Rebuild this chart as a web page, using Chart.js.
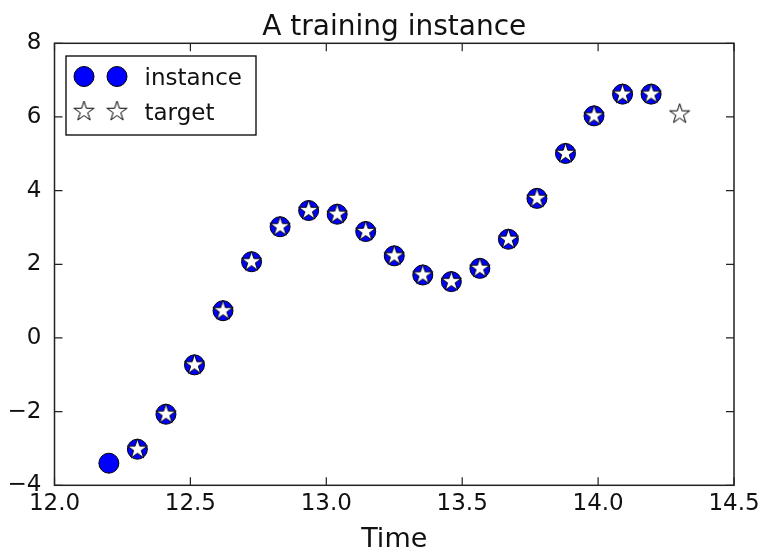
<!DOCTYPE html>
<html>
<head>
<meta charset="utf-8">
<script src="https://cdn.jsdelivr.net/npm/chart.js@4/dist/chart.umd.min.js"></script>
<style>
  html, body { margin: 0; padding: 0; background: #fff; }
  #wrap { width: 762px; height: 552px; }
</style>
</head>
<body>
<div id="wrap"><canvas id="myChart" width="762" height="552"></canvas></div>
<script>
// time steps of the training instance (21 points, instance = first 20, target = last 20)
const tiempos = [12.2, 12.305, 12.41, 12.515, 12.62, 12.725, 12.83, 12.935, 13.04, 13.145,
  13.25, 13.355, 13.46, 13.565, 13.67, 13.775, 13.88, 13.985, 14.09, 14.195, 14.3];
const valoresInstancia = [-3.40, -3.02, -2.07, -0.73, 0.74, 2.07, 3.02, 3.46, 3.36, 2.89,
  2.23, 1.71, 1.53, 1.89, 2.68, 3.79, 5.01, 6.03, 6.62, 6.62];
const valoresTarget = [-3.02, -2.07, -0.73, 0.74, 2.07, 3.02, 3.46, 3.36, 2.89, 2.23,
  1.71, 1.53, 1.89, 2.68, 3.79, 5.01, 6.03, 6.62, 6.62, 6.08];
const ticksX = [12.0, 12.5, 13.0, 13.5, 14.0, 14.5];
const ticksY = [-4, -2, 0, 2, 4, 6, 8];
const etiquetas = ['instance', 'target'];
const titulo = 'A training instance';
const tituloX = 'Time';

const fuente = "'DejaVu Sans', 'Liberation Sans', sans-serif";

// white five-point star marker, like matplotlib "w*"
function crearEstrella(radio) {
  const c = document.createElement('canvas');
  const lado = Math.ceil(radio * 2 + 4);
  c.width = lado;
  c.height = lado;
  const ctx = c.getContext('2d');
  const cx = lado / 2, cy = lado / 2;
  const interior = radio * 0.381966;
  ctx.beginPath();
  for (let i = 0; i < 10; i++) {
    const r = i % 2 === 0 ? radio : interior;
    const ang = -Math.PI / 2 + i * Math.PI / 5;
    const px = cx + r * Math.cos(ang);
    const py = cy + r * Math.sin(ang);
    if (i === 0) ctx.moveTo(px, py); else ctx.lineTo(px, py);
  }
  ctx.closePath();
  ctx.fillStyle = '#ffffff';
  ctx.fill();
  ctx.lineWidth = 1;
  ctx.strokeStyle = '#000000';
  ctx.lineJoin = 'miter';
  ctx.stroke();
  return c;
}
const estrella = crearEstrella(10.5);

const puntos = (xs, ys) => ys.map((v, i) => ({ x: xs[i], y: v }));

// frame, inward ticks, title, axis label and legend drawn matplotlib style
const estiloClasico = {
  id: 'estiloClasico',
  afterDraw(chart) {
    const { ctx, chartArea: a } = chart;
    const sx = chart.scales.x, sy = chart.scales.y;
    ctx.save();
    ctx.strokeStyle = '#222';
    ctx.lineWidth = 1.5;
    ctx.strokeRect(a.left, a.top, a.right - a.left, a.bottom - a.top);

    ctx.lineWidth = 1.2;
    ctx.beginPath();
    ticksX.forEach(t => {
      const px = sx.getPixelForValue(t);
      ctx.moveTo(px, a.bottom); ctx.lineTo(px, a.bottom - 8);
      ctx.moveTo(px, a.top); ctx.lineTo(px, a.top + 8);
    });
    ticksY.forEach(t => {
      const py = sy.getPixelForValue(t);
      ctx.moveTo(a.left, py); ctx.lineTo(a.left + 8, py);
      ctx.moveTo(a.right, py); ctx.lineTo(a.right - 8, py);
    });
    ctx.stroke();

    // title and x label
    ctx.fillStyle = '#111';
    ctx.textAlign = 'center';
    ctx.textBaseline = 'alphabetic';
    const centro = (a.left + a.right) / 2;
    ctx.font = '28px ' + fuente;
    ctx.fillText(titulo, centro, 35);
    ctx.font = '27px ' + fuente;
    ctx.fillText(tituloX, centro, 547);

    // legend
    const lx = a.left + 11.5, ly = a.top + 12.7;
    ctx.fillStyle = '#fff';
    ctx.fillRect(lx, ly, 190, 79);
    ctx.strokeStyle = '#000';
    ctx.lineWidth = 1.3;
    ctx.strokeRect(lx, ly, 190, 79);
    const filas = [ly + 20.5, ly + 55.5];
    const columnas = [lx + 18, lx + 51];
    columnas.forEach(cx => {
      ctx.beginPath();
      ctx.arc(cx, filas[0], 10, 0, Math.PI * 2);
      ctx.fillStyle = '#0000ff';
      ctx.fill();
      ctx.lineWidth = 1;
      ctx.strokeStyle = '#000';
      ctx.stroke();
      ctx.drawImage(estrella, cx - estrella.width / 2, filas[1] - estrella.height / 2);
    });
    ctx.fillStyle = '#111';
    ctx.textAlign = 'left';
    ctx.font = '23px ' + fuente;
    ctx.fillText(etiquetas[0], lx + 78.5, filas[0] + 8);
    ctx.fillText(etiquetas[1], lx + 78.5, filas[1] + 8);
    ctx.restore();
  }
};

const config = {
  type: 'scatter',
  data: {
    datasets: [
      {
        label: etiquetas[0],
        data: puntos(tiempos.slice(0, 20), valoresInstancia),
        pointStyle: 'circle',
        pointRadius: 10,
        pointHoverRadius: 10,
        backgroundColor: '#0000ff',
        borderColor: '#000000',
        borderWidth: 1,
        order: 1
      },
      {
        label: etiquetas[1],
        data: puntos(tiempos.slice(1), valoresTarget),
        pointStyle: estrella,
        pointRadius: 10,
        backgroundColor: '#ffffff',
        borderColor: '#000000',
        order: 0
      }
    ]
  },
  options: {
    responsive: false,
    animation: false,
    events: [],
    layout: { padding: { top: 43.3, right: 28, left: 0, bottom: 0 } },
    plugins: {
      legend: { display: false },
      title: { display: false },
      tooltip: { enabled: false }
    },
    scales: {
      x: {
        type: 'linear',
        min: 12,
        max: 14.5,
        afterBuildTicks: (s) => { s.ticks = ticksX.map(v => ({ value: v })); },
        afterFit: (s) => { s.height = 66.7; },
        grid: { display: false },
        border: { display: false },
        ticks: {
          color: '#111',
          padding: -3,
          maxRotation: 0,
          font: { family: fuente, size: 23 },
          callback: (v) => Number(v).toFixed(1)
        }
      },
      y: {
        type: 'linear',
        min: -4,
        max: 8,
        afterBuildTicks: (s) => { s.ticks = ticksY.map(v => ({ value: v })); },
        afterFit: (s) => { s.width = 54.5; },
        grid: { display: false },
        border: { display: false },
        ticks: {
          color: '#111',
          padding: 5,
          font: { family: fuente, size: 23 },
          callback: (v) => String(v).replace('-', '\u2212')
        }
      }
    }
  },
  plugins: [estiloClasico]
};

new Chart(document.getElementById('myChart'), config);
</script>
</body>
</html>
